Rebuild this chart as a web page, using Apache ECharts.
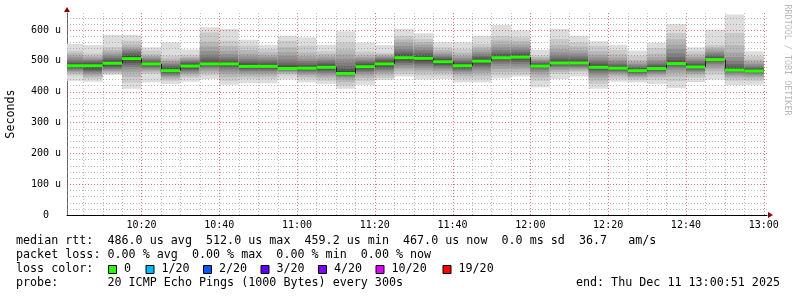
<!DOCTYPE html>
<html><head><meta charset="utf-8">
<script src="https://cdn.jsdelivr.net/npm/echarts@6/dist/echarts.min.js"></script>
<style>html,body{margin:0;padding:0;background:#fff}#c{width:797px;height:297px}</style>
</head><body><div id="c"></div>
<script>
// ---- data ----
const axisStart = '10:00:51';
const axisEnd = '13:00:51';
const binEnds = ['10:05','10:10','10:15','10:20','10:25','10:30','10:35','10:40','10:45','10:50','10:55','11:00',
  '11:05','11:10','11:15','11:20','11:25','11:30','11:35','11:40','11:45','11:50','11:55','12:00',
  '12:05','12:10','12:15','12:20','12:25','12:30','12:35','12:40','12:45','12:50','12:55','13:00'];
const medians = [484,484,492,507,490,468,483,490,490,482,482,475,476,479,459,481,490,510,508,497,484,499,510,512,
  483,493,493,479,476,468,475,491,480,504,470,467];
// 20 sorted ping RTTs (microseconds) per 5-minute bin
const pings = [
  [435,452,458,463,467,471,474,477,480,482,486,489,493,498,504,511,518,525,533,555],
  [432,441,447,453,458,463,467,471,476,481,486,490,494,498,502,506,511,517,524,551],
  [454,458,462,466,470,474,478,482,486,490,494,498,503,508,514,520,527,535,545,584],
  [409,430,448,463,472,480,487,493,499,504,510,515,520,526,532,538,544,553,565,584],
  [430,457,463,468,472,476,480,484,487,489,491,494,497,501,505,510,515,521,533,544],
  [425,435,441,446,450,454,458,461,464,466,470,474,479,484,489,494,500,507,517,560],
  [432,445,451,457,462,466,470,474,478,481,485,488,492,496,500,504,508,513,520,537],
  [441,452,460,466,472,477,481,484,487,489,492,496,502,510,520,532,546,562,592,609],
  [422,435,447,457,465,472,478,482,486,489,492,496,500,506,513,522,533,548,565,603],
  [427,441,449,456,462,467,471,475,478,480,484,488,493,499,506,514,523,535,549,568],
  [427,441,449,456,462,467,471,475,478,480,483,487,492,498,504,511,518,527,538,552],
  [439,452,458,462,465,468,470,472,473,474,477,481,487,495,505,516,528,544,565,581],
  [430,441,448,454,459,463,467,470,472,474,477,481,486,492,499,507,516,527,549,576],
  [425,435,443,450,456,461,466,470,474,477,481,485,490,495,501,507,514,522,531,552],
  [409,420,431,440,446,450,453,456,458,459,462,467,474,483,494,507,521,537,560,596],
  [422,435,444,452,458,464,468,472,476,479,483,487,491,496,501,507,513,520,530,559],
  [438,444,452,459,465,470,475,479,484,488,493,497,501,505,509,513,517,521,526,551],
  [449,457,466,474,481,487,493,498,503,507,512,517,523,530,538,548,559,569,581,603],
  [439,452,462,470,477,484,490,495,500,504,509,514,520,527,535,544,553,561,571,589],
  [441,452,460,467,473,478,483,487,491,495,499,503,507,511,516,521,527,535,544,560],
  [430,441,450,457,463,468,472,476,479,482,486,490,494,499,504,510,517,526,538,560],
  [430,441,452,461,469,476,482,488,493,497,501,505,510,515,521,528,536,545,555,581],
  [443,452,463,473,482,490,497,502,506,509,512,516,521,527,535,544,554,566,581,616],
  [449,455,464,473,481,489,496,502,507,511,514,518,523,529,536,544,553,563,576,598],
  [414,435,446,456,464,470,475,479,481,483,485,488,491,494,498,502,507,512,518,536],
  [441,457,464,470,475,480,484,487,490,492,495,499,504,510,518,527,538,552,571,603],
  [449,463,468,472,476,480,484,487,490,492,495,499,504,510,517,525,534,546,560,581],
  [409,425,436,445,453,460,466,471,475,477,481,485,490,496,503,511,520,531,549,563],
  [432,441,449,455,460,464,467,470,472,474,477,480,484,489,495,502,510,521,535,552],
  [430,437,443,448,452,456,459,462,464,466,469,472,476,480,485,490,496,503,517,533],
  [425,439,447,453,458,462,466,469,472,474,477,480,484,489,495,502,511,523,541,558],
  [412,434,449,461,470,477,482,486,489,491,493,497,503,512,524,538,553,570,590,619],
  [431,444,452,458,463,467,471,474,477,479,482,485,489,494,500,506,513,521,531,544],
  [439,455,466,475,483,490,495,499,502,503,506,509,513,518,524,530,537,544,552,601],
  [421,435,443,450,455,460,464,467,469,470,472,476,482,490,500,512,526,551,590,650],
  [422,435,442,448,453,457,461,464,466,467,469,472,475,479,484,490,496,504,515,531]
];
const xLabels = ['10:20','10:40','11:00','11:20','11:40','12:00','12:20','12:40','13:00'];
const yLabels = [0,100,200,300,400,500,600];
const yMinor = [20,40,60,80,120,140,160,180,220,240,260,280,320,340,360,380,420,440,460,480,520,540,560,580,620,640];
const yMax = 655;
const lossColors = ['#26ff00','#00b8ff','#0059ff','#5e00ff','#7e00ff','#dd00ff','#ff0000'];
const lossLabels = ['0','1/20','2/20','3/20','4/20','10/20','19/20'];
const statLines = [
  'median rtt:  486.0 us avg  512.0 us max  459.2 us min  467.0 us now  0.0 ms sd  36.7   am/s',
  'packet loss: 0.00 % avg  0.00 % max  0.00 % min  0.00 % now',
  'loss color:',
  'probe:       20 ICMP Echo Pings (1000 Bytes) every 300s'
];
const endText = 'end: Thu Dec 11 13:00:51 2025';
const smokeGrays = [221,202,183,164,145,126,107,88,69,50];

// ---- helpers ----
function toMin(s){const p=s.split(':').map(Number);return (p[0]-10)*60+p[1]+(p[2]||0)/60;}
function fmt(v){const m=Math.round(v);const h=10+Math.floor(m/60);const mm=m%60;return (h<10?'0':'')+h+':'+(mm<10?'0':'')+mm;}
const xMin = toMin(axisStart), xMax = toMin(axisEnd);
const gray = g => 'rgb('+g+','+g+','+g+')';
const MONO = '"DejaVu Sans Mono", monospace';

const binData = binEnds.map((e,i)=>[toMin(e)-5, toMin(e), i, medians[i], i>0?medians[i-1]:medians[i]]);
const majorX = xLabels.map(toMin);
const minorX = binEnds.map(toMin).filter(v=>majorX.indexOf(v)<0);
const gridData = [];
minorX.forEach(v=>gridData.push([0,v,0]));
yMinor.forEach(v=>gridData.push([1,v,0]));
majorX.forEach(v=>gridData.push([0,v,1]));
yLabels.filter(v=>v>0).forEach(v=>gridData.push([1,v,1]));

const chart = echarts.init(document.getElementById('c'), null, {renderer:'canvas'});
const gl = {left:67, right:30, top:13, bottom:82};
const option = {
  animation:false,
  backgroundColor:'#ffffff',
  grid:{left:gl.left,right:gl.right,top:gl.top,bottom:gl.bottom,containLabel:false},
  xAxis:{type:'value',min:xMin,max:xMax,
    axisLine:{show:true,onZero:false,lineStyle:{color:'#000',width:1}},
    axisTick:{show:false},splitLine:{show:false},
    axisLabel:{customValues:majorX,formatter:v=>fmt(v),fontFamily:MONO,fontSize:10,color:'#000',margin:5}},
  yAxis:{type:'value',min:0,max:yMax,
    axisLine:{show:true,lineStyle:{color:'#666',width:1}},
    axisTick:{show:false},splitLine:{show:false},
    axisLabel:{customValues:yLabels,formatter:v=>v===0?'0  ':(v+' u'),fontFamily:MONO,fontSize:10,color:'#000',margin:6}},
  series:[
    {type:'custom',name:'smoke',z:2,clip:true,data:binData,encode:{x:[0,1],y:3},
     renderItem:function(params,api){
       const i=api.value(2);const p=pings[i];
       const x0=Math.max(api.value(0),xMin), x1=api.value(1);
       const children=[];
       for(let k=0;k<10;k++){
         const a=api.coord([x0,p[19-k]]), b=api.coord([x1,p[k]]);
         children.push({type:'rect',shape:{x:a[0],y:a[1],width:b[0]-a[0],height:b[1]-a[1]},style:{fill:gray(smokeGrays[k])}});
       }
       return {type:'group',children};
     }},
    {type:'custom',name:'grid',z:3,silent:true,data:gridData,
     renderItem:function(params,api){
       const cs=params.coordSys;const dir=api.value(0),v=api.value(1),major=api.value(2);
       const col=major?'rgba(220,60,60,0.7)':'rgba(140,140,140,0.6)';
       let shape;
       if(dir===0){const x=Math.round(api.coord([v,0])[0])+0.5;shape={x1:x,y1:cs.y,x2:x,y2:cs.y+cs.height};}
       else{const y=Math.round(api.coord([xMin,v])[1])+0.5;shape={x1:cs.x,y1:y,x2:cs.x+cs.width,y2:y};}
       return {type:'line',shape,style:{stroke:col,lineWidth:1,lineDash:[1,2]}};
     }},
    {type:'custom',name:'median',z:4,data:binData,encode:{x:[0,1],y:3},
     renderItem:function(params,api){
       const x0=Math.max(api.value(0),xMin), x1=api.value(1);
       const a=api.coord([x0,api.value(3)]), b=api.coord([x1,api.value(3)]);
       const pr=api.coord([x0,api.value(4)]);
       return {type:'group',children:[
         {type:'line',shape:{x1:Math.round(a[0])+0.5,y1:pr[1],x2:Math.round(a[0])+0.5,y2:a[1]},style:{stroke:'#202020',lineWidth:1}},
         {type:'rect',shape:{x:a[0],y:a[1]-1.5,width:b[0]-a[0],height:3},style:{fill:lossColors[0]}}
       ]};
     }}
  ],
  graphic:[]
};
chart.setOption(option);

// decorations / legend (layout computed from grid)
const W=797,H=297;
const gx0=gl.left, gy0=gl.top, gx1=W-gl.right, gy1=H-gl.bottom;
const g=[];
g.push({type:'polygon',shape:{points:[[gx0-3,gy0-1],[gx0+3,gy0-1],[gx0,gy0-6]]},style:{fill:'#8b0000'},z:10});
g.push({type:'polygon',shape:{points:[[gx1+1,gy1-3],[gx1+1,gy1+3],[gx1+6,gy1]]},style:{fill:'#8b0000'},z:10});
g.push({type:'text',x:11,y:(gy0+gy1)/2,rotation:Math.PI/2,style:{text:'Seconds',font:'11.7px '+MONO,fill:'#000',align:'center',verticalAlign:'middle'}});
g.push({type:'text',x:787,y:60,rotation:-Math.PI/2,style:{text:'RRDTOOL / TOBI OETIKER',font:'8.4px '+MONO,fill:'#b8b8b8',align:'center',verticalAlign:'middle'}});
const lineY=[241,255,269,283];
statLines.forEach((t,i)=>g.push({type:'text',x:16,y:lineY[i],style:{text:t,font:'11.7px '+MONO,fill:'#000',align:'left',verticalAlign:'middle'}}));
g.push({type:'text',x:780,y:lineY[3],style:{text:endText,font:'11.7px '+MONO,fill:'#000',align:'right',verticalAlign:'middle'}});
const sqX=[108,145.5,203,260.5,318,375.5,442.5];
lossColors.forEach((c,i)=>{
  g.push({type:'rect',shape:{x:sqX[i]+0.5,y:265.5,width:8,height:8},style:{fill:c,stroke:'#000',lineWidth:1}});
  g.push({type:'text',x:sqX[i]+16,y:lineY[2],style:{text:lossLabels[i],font:'11.7px '+MONO,fill:'#000',align:'left',verticalAlign:'middle'}});
});
chart.setOption({graphic:g});
</script></body></html>
